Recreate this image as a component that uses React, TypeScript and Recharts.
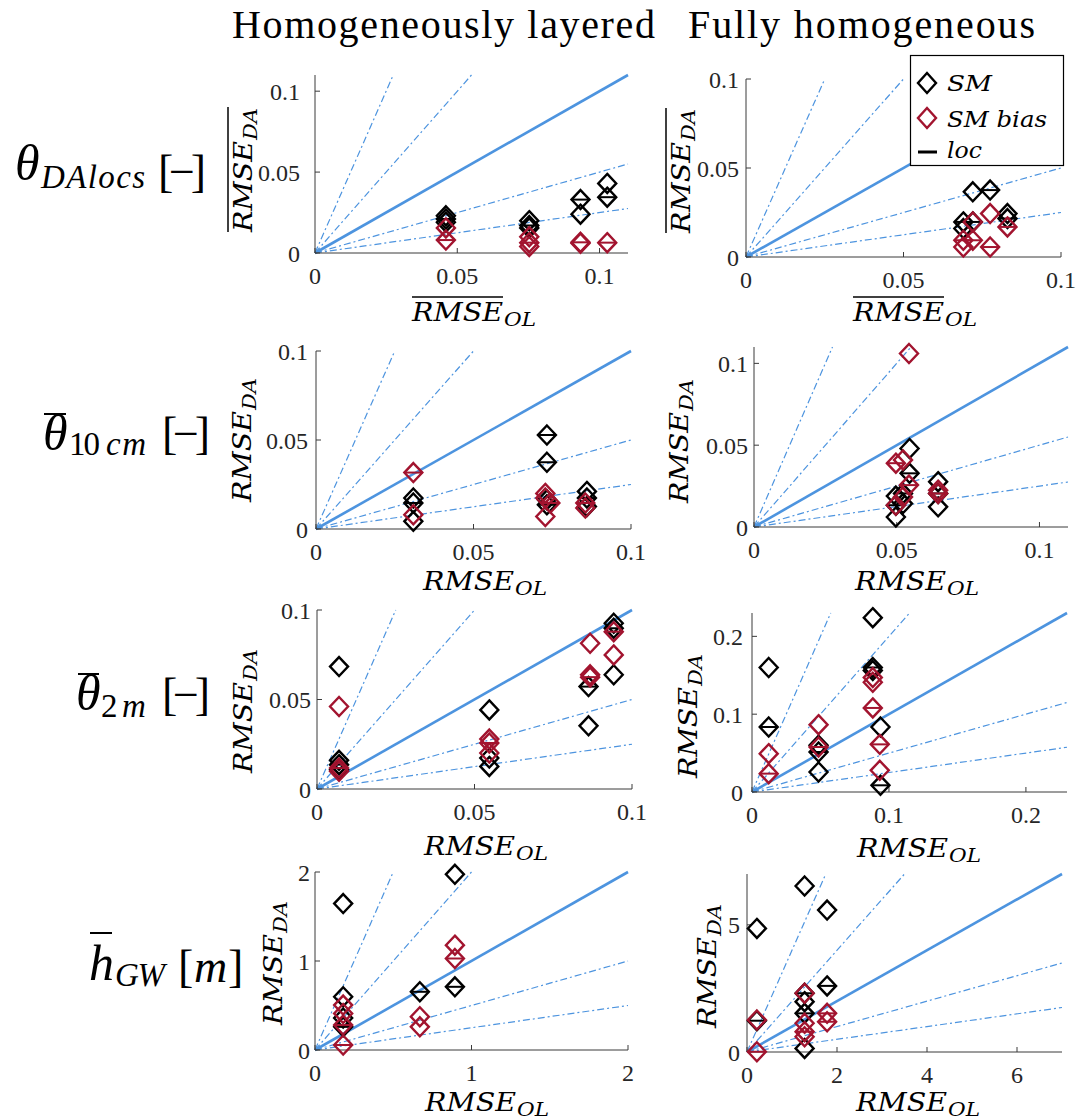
import React from 'react';
import { ScatterChart, Scatter, XAxis, YAxis, ReferenceLine, Legend } from 'recharts';

// ---------- data: [RMSE_OL, RMSE_DA, loc-flag] ----------
type Pt = [number, number, number];

const colTitles = ['Homogeneously layered', 'Fully homogeneous'];

const p1SM: Pt[] = [
  [0.046, 0.023, 0], [0.046, 0.021, 1], [0.046, 0.019, 0],
  [0.0753, 0.020, 0], [0.0753, 0.017, 1], [0.0753, 0.0155, 0],
  [0.0933, 0.033, 1], [0.0933, 0.024, 0],
  [0.1027, 0.043, 0], [0.1027, 0.0345, 1],
];
const p1Bias: Pt[] = [
  [0.046, 0.0155, 0], [0.046, 0.008, 1],
  [0.0753, 0.010, 0], [0.0753, 0.0064, 1], [0.0753, 0.004, 0],
  [0.0933, 0.0066, 1], [0.0933, 0.006, 0],
  [0.1027, 0.0064, 1],
];
const p2SM: Pt[] = [
  [0.069, 0.0197, 1], [0.069, 0.016, 0],
  [0.072, 0.0366, 0], [0.072, 0.0197, 1],
  [0.0775, 0.0376, 1],
  [0.083, 0.0244, 0], [0.083, 0.0216, 1],
];
const p2Bias: Pt[] = [
  [0.069, 0.0094, 1], [0.069, 0.0056, 0],
  [0.072, 0.0197, 0], [0.072, 0.0094, 1],
  [0.0775, 0.0244, 0], [0.0775, 0.0056, 1],
  [0.083, 0.0169, 1],
];
const p3SM: Pt[] = [
  [0.0309, 0.0174, 0], [0.0309, 0.0146, 1], [0.0309, 0.0043, 0],
  [0.0733, 0.0528, 1], [0.0733, 0.0375, 1], [0.0733, 0.0164, 0], [0.0733, 0.0136, 1],
  [0.086, 0.0211, 0], [0.086, 0.0174, 1], [0.086, 0.0127, 0],
];
const p3Bias: Pt[] = [
  [0.0309, 0.0317, 1], [0.0309, 0.008, 0],
  [0.0728, 0.020, 0], [0.0728, 0.0174, 0], [0.0728, 0.007, 0],
  [0.0744, 0.0146, 1],
  [0.0855, 0.0146, 1], [0.0855, 0.0118, 0],
];
const p4SM: Pt[] = [
  [0.0497, 0.0189, 0], [0.0497, 0.0133, 1], [0.0497, 0.0061, 0],
  [0.0522, 0.0205, 1], [0.0522, 0.0143, 0],
  [0.0545, 0.048, 0], [0.0545, 0.0328, 1],
  [0.0645, 0.0277, 0], [0.0645, 0.0205, 1], [0.0645, 0.0123, 0],
];
const p4Bias: Pt[] = [
  [0.0497, 0.039, 1], [0.0497, 0.0133, 0],
  [0.0522, 0.041, 0], [0.0522, 0.0184, 0],
  [0.0543, 0.106, 0], [0.0543, 0.0256, 1],
  [0.0645, 0.0225, 0], [0.0645, 0.0205, 1],
];
const p5SM: Pt[] = [
  [0.007, 0.0684, 0], [0.007, 0.016, 0], [0.007, 0.0136, 1], [0.007, 0.0108, 0],
  [0.0547, 0.0442, 0], [0.0547, 0.0173, 0], [0.0547, 0.0126, 0],
  [0.0862, 0.0572, 1], [0.0862, 0.0353, 0],
  [0.0942, 0.0926, 0], [0.0942, 0.0898, 1], [0.0942, 0.0638, 0],
];
const p5Bias: Pt[] = [
  [0.007, 0.0461, 0], [0.007, 0.0117, 1], [0.007, 0.0099, 0],
  [0.0547, 0.0279, 0], [0.0547, 0.0257, 1], [0.0547, 0.0201, 0],
  [0.0867, 0.0814, 0], [0.0867, 0.0638, 0], [0.0867, 0.0625, 1],
  [0.0942, 0.0879, 1], [0.0942, 0.0749, 0],
];
const p6SM: Pt[] = [
  [0.0122, 0.16, 0], [0.0122, 0.0835, 1],
  [0.0486, 0.06, 0], [0.0486, 0.0514, 1], [0.0486, 0.0257, 0],
  [0.0882, 0.224, 0], [0.0882, 0.16, 1], [0.0882, 0.156, 0],
  [0.0938, 0.0835, 0], [0.0938, 0.0086, 1],
];
const p6Bias: Pt[] = [
  [0.0122, 0.0493, 0], [0.0122, 0.0236, 1],
  [0.0486, 0.0865, 0], [0.0486, 0.0578, 1],
  [0.0882, 0.147, 0], [0.0882, 0.141, 0], [0.0882, 0.108, 1],
  [0.0933, 0.0612, 1], [0.0933, 0.0278, 0],
];
const p7SM: Pt[] = [
  [0.18, 1.645, 0], [0.18, 0.598, 0], [0.18, 0.36, 0], [0.18, 0.26, 1],
  [0.67, 0.654, 1],
  [0.894, 1.974, 0], [0.894, 0.71, 1],
];
const p7Bias: Pt[] = [
  [0.18, 0.505, 0], [0.18, 0.41, 0], [0.18, 0.28, 1], [0.18, 0.056, 1],
  [0.67, 0.374, 0], [0.67, 0.26, 0],
  [0.894, 1.178, 0], [0.894, 1.028, 1],
];
const p8SM: Pt[] = [
  [0.22, 4.86, 0], [0.22, 1.23, 1],
  [1.28, 6.53, 0], [1.28, 2.31, 1], [1.28, 1.98, 0], [1.28, 1.52, 1], [1.28, 0.14, 0],
  [1.78, 5.58, 0], [1.78, 2.6, 1],
];
const p8Bias: Pt[] = [
  [0.22, 1.26, 0], [0.22, 0.01, 1],
  [1.28, 2.31, 0], [1.28, 1.13, 0], [1.28, 0.8, 1], [1.28, 0.6, 0],
  [1.78, 1.52, 1], [1.78, 1.19, 1],
];

// reference slopes (RMSE_DA / RMSE_OL)
const dashSlopes = [4, 2, 0.5, 0.25];
const solidSlope = 1;

// axis domains / ticks
const axisMax = [0.11, 0.1, 0.1, 0.11, 0.1, 0.23, 2, 7];
const xTicksList = [
  [0, 0.05, 0.1], [0, 0.05, 0.1], [0, 0.05, 0.1], [0, 0.05, 0.1],
  [0, 0.05, 0.1], [0, 0.1, 0.2], [0, 1, 2], [0, 2, 4, 6],
];
const yTicksList = [
  [0, 0.05, 0.1], [0, 0.05, 0.1], [0, 0.05, 0.1], [0, 0.05, 0.1],
  [0, 0.05, 0.1], [0, 0.1, 0.2], [0, 1, 2], [0, 5],
];
const smSets = [p1SM, p2SM, p3SM, p4SM, p5SM, p6SM, p7SM, p8SM];
const biasSets = [p1Bias, p2Bias, p3Bias, p4Bias, p5Bias, p6Bias, p7Bias, p8Bias];
const overbarRow = [true, true, false, false, false, false, false, false];

// ---------- layout (page pixels) ----------
const plotRects = [
  { l: 315, t: 75, w: 313, h: 178 },
  { l: 746, t: 79, w: 315, h: 178 },
  { l: 316, t: 351, w: 315, h: 178 },
  { l: 754, t: 347, w: 314, h: 180 },
  { l: 317, t: 610, w: 315, h: 179 },
  { l: 752, t: 613, w: 315, h: 179 },
  { l: 315, t: 872, w: 313, h: 178 },
  { l: 747, t: 874, w: 315, h: 178 },
];
const yTickGap = [15, 7, 8, 6, 6, 9, 5, 7];
const xLabelPos = [
  { x: 412, b: 321 }, { x: 853, b: 321 }, { x: 423, b: 590 }, { x: 855, b: 590 },
  { x: 424, b: 855 }, { x: 857, b: 857 }, { x: 425, b: 1111 }, { x: 856, b: 1111 },
];
const yLabelPos = [
  { x: 252, b: 232 }, { x: 690, b: 233 }, { x: 251, b: 502 }, { x: 688, b: 503 },
  { x: 252, b: 773 }, { x: 697, b: 778 }, { x: 282, b: 1025 }, { x: 716, b: 1028 },
];

const BLUE = '#4d94df';
const RED = '#a2142f';
const FONT = 'Liberation Serif';
const MATH = 'DejaVu Serif';
const AX = '#3a3a3a';
const M_TOP = 30, M_RIGHT = 20, M_BOTTOM = 10, Y_W = 70, X_H = 30;

const toObj = (arr: Pt[]) => arr.map(([x, y, loc]) => ({ x, y, loc }));

const makeDiamond = (color: string) => (props: any) => {
  const { cx, cy, payload } = props;
  if (cx == null || cy == null) return <g />;
  const hw = 9, hh = 9.5;
  return (
    <g>
      <path d={`M${cx},${cy - hh}L${cx + hw},${cy}L${cx},${cy + hh}L${cx - hw},${cy}Z`}
        fill="none" stroke={color} strokeWidth={2.4} strokeLinejoin="miter" />
      {payload && payload.loc ? (
        <line x1={cx - hw} x2={cx + hw} y1={cy} y2={cy} stroke={color} strokeWidth={2} />
      ) : null}
    </g>
  );
};
const blackDiamond = makeDiamond('#000');
const redDiamond = makeDiamond(RED);

const LegendBox = () => (
  <svg width={155} height={112} style={{ display: 'block', overflow: 'visible' }}>
    <rect x={0.5} y={0.5} width={153} height={110} fill="#fff" stroke="#000" strokeWidth={1.2} />
    <path d="M17,18L26,28L17,38L8,28Z" fill="none" stroke="#000" strokeWidth={2.4} />
    <text x={37} y={36} fontFamily={MATH} fontStyle="italic" fontSize={23} textLength={45} lengthAdjust="spacingAndGlyphs">SM</text>
    <path d="M17,53L26,63L17,73L8,63Z" fill="none" stroke={RED} strokeWidth={2.4} />
    <text x={37} y={72} fontFamily={MATH} fontStyle="italic" fontSize={23} textLength={100} lengthAdjust="spacingAndGlyphs">SM bias</text>
    <line x1={8} x2={27} y1={97} y2={97} stroke="#000" strokeWidth={3} />
    <text x={37} y={103} fontFamily={MATH} fontStyle="italic" fontSize={23} textLength={35} lengthAdjust="spacingAndGlyphs">loc</text>
  </svg>
);

function AxisText({ over, overAll, sub }: { over: boolean; overAll: boolean; sub: string }) {
  const mainLen = 91, subLen = 32;
  return (
    <g fontFamily={MATH} fontStyle="italic" fill="#000">
      <text x={0} y={0} fontSize={26} textLength={mainLen} lengthAdjust="spacingAndGlyphs">RMSE</text>
      <text x={mainLen + 1} y={5} fontSize={19} textLength={subLen} lengthAdjust="spacingAndGlyphs">{sub}</text>
      {over ? (
        <line x1={0} x2={overAll ? mainLen + subLen + 2 : mainLen} y1={-24} y2={-24} stroke="#000" strokeWidth={1.5} />
      ) : null}
    </g>
  );
}

function Panel({ i }: { i: number }) {
  const r = plotRects[i];
  const max = axisMax[i];
  const left = r.l - Y_W;
  const top = r.t - M_TOP;
  const width = r.w + Y_W + M_RIGHT;
  const height = r.h + M_TOP + X_H + M_BOTTOM;
  const tickStyle = { fontSize: 24, fill: '#262626', fontFamily: FONT };
  const seg = (s: number) => {
    const xe = Math.min(max, max / s);
    return [{ x: 0, y: 0 }, { x: xe, y: xe * s }];
  };
  return (
    <div style={{ position: 'absolute', left, top }}>
      <ScatterChart width={width} height={height}
        margin={{ top: M_TOP, right: M_RIGHT, bottom: M_BOTTOM, left: 0 }}
        style={{ fontFamily: FONT }}>
        <XAxis type="number" dataKey="x" domain={[0, max]} ticks={xTicksList[i]} interval={0}
          height={X_H} tick={tickStyle} tickSize={-5} tickMargin={19}
          axisLine={{ stroke: AX }} tickLine={{ stroke: AX }} />
        <YAxis type="number" dataKey="y" domain={[0, max]} ticks={yTicksList[i]} interval={0}
          width={Y_W} tick={tickStyle} tickSize={-5} tickMargin={5 + yTickGap[i]}
          axisLine={{ stroke: AX }} tickLine={{ stroke: AX }} />
        {dashSlopes.map((s) => (
          <ReferenceLine key={s} segment={seg(s)} stroke={BLUE} strokeWidth={1.2}
            strokeDasharray="7 3 2 3" ifOverflow="visible" />
        ))}
        <ReferenceLine segment={seg(solidSlope)} stroke={BLUE} strokeWidth={2.6} ifOverflow="visible" />
        <Scatter name="SM" data={toObj(smSets[i])} shape={blackDiamond} isAnimationActive={false} />
        <Scatter name="SM bias" data={toObj(biasSets[i])} shape={redDiamond} isAnimationActive={false} />
        {i === 1 ? (
          <Legend layout="horizontal" align="center" verticalAlign="middle"
            wrapperStyle={{ left: 910 - left, top: 55 - top, width: 155, height: 112 }}
            content={() => <LegendBox />} />
        ) : null}
      </ScatterChart>
    </div>
  );
}

function Overlay() {
  const italic = { fontFamily: FONT, fontStyle: 'italic' as const };
  const roman = { fontFamily: FONT };
  return (
    <svg width={1092} height={1119} style={{ position: 'absolute', left: 0, top: 0, pointerEvents: 'none' }}>
      {/* column titles */}
      <text x={232} y={38} {...roman} fontSize={40} textLength={423} lengthAdjust="spacing">{colTitles[0]}</text>
      <text x={688} y={38} {...roman} fontSize={40} textLength={347} lengthAdjust="spacing">{colTitles[1]}</text>

      {/* row 1 */}
      <text x={15} y={180} {...italic} fontSize={50}>θ</text>
      <text x={41} y={188} {...italic} fontSize={33} textLength={104} lengthAdjust="spacing">DAlocs</text>
      <text x={158} y={187} {...roman} fontSize={46} textLength={48} lengthAdjust="spacing">[−]</text>

      {/* row 2 */}
      <line x1={44} x2={66} y1={414} y2={414} stroke="#000" strokeWidth={2} />
      <text x={43} y={450} {...italic} fontSize={50}>θ</text>
      <text x={69} y={455} {...roman} fontSize={33} textLength={31} lengthAdjust="spacing">10</text>
      <text x={106} y={455} {...italic} fontSize={33} textLength={40} lengthAdjust="spacing">cm</text>
      <text x={162} y={449} {...roman} fontSize={46} textLength={48} lengthAdjust="spacing">[−]</text>

      {/* row 3 */}
      <line x1={78} x2={99} y1={674} y2={674} stroke="#000" strokeWidth={2} />
      <text x={76} y={710} {...italic} fontSize={50}>θ</text>
      <text x={101} y={717} {...roman} fontSize={33}>2</text>
      <text x={122} y={717} {...italic} fontSize={33}>m</text>
      <text x={162} y={710} {...roman} fontSize={46} textLength={48} lengthAdjust="spacing">[−]</text>

      {/* row 4 */}
      <line x1={90} x2={112} y1={933} y2={933} stroke="#000" strokeWidth={2} />
      <text x={89} y={980} {...italic} fontSize={50}>h</text>
      <text x={115} y={986} {...italic} fontSize={33} textLength={50} lengthAdjust="spacing">GW</text>
      <text x={178} y={982} {...roman} fontSize={46}>[</text>
      <text x={194} y={982} {...italic} fontSize={46}>m</text>
      <text x={228} y={982} {...roman} fontSize={46}>]</text>

      {/* axis labels */}
      {xLabelPos.map((p, i) => (
        <g key={'xl' + i} transform={`translate(${p.x},${p.b})`}>
          <AxisText over={overbarRow[i]} overAll={false} sub="OL" />
        </g>
      ))}
      {yLabelPos.map((p, i) => (
        <g key={'yl' + i} transform={`translate(${p.x},${p.b}) rotate(-90)`}>
          <AxisText over={overbarRow[i]} overAll={true} sub="DA" />
        </g>
      ))}
    </svg>
  );
}

export default function App() {
  return (
    <div style={{ position: 'absolute', left: 0, top: 0, width: 1092, height: 1119, background: '#fff', fontFamily: FONT }}>
      <Overlay />
      {plotRects.map((_, i) => (
        <Panel key={i} i={i} />
      ))}
    </div>
  );
}
